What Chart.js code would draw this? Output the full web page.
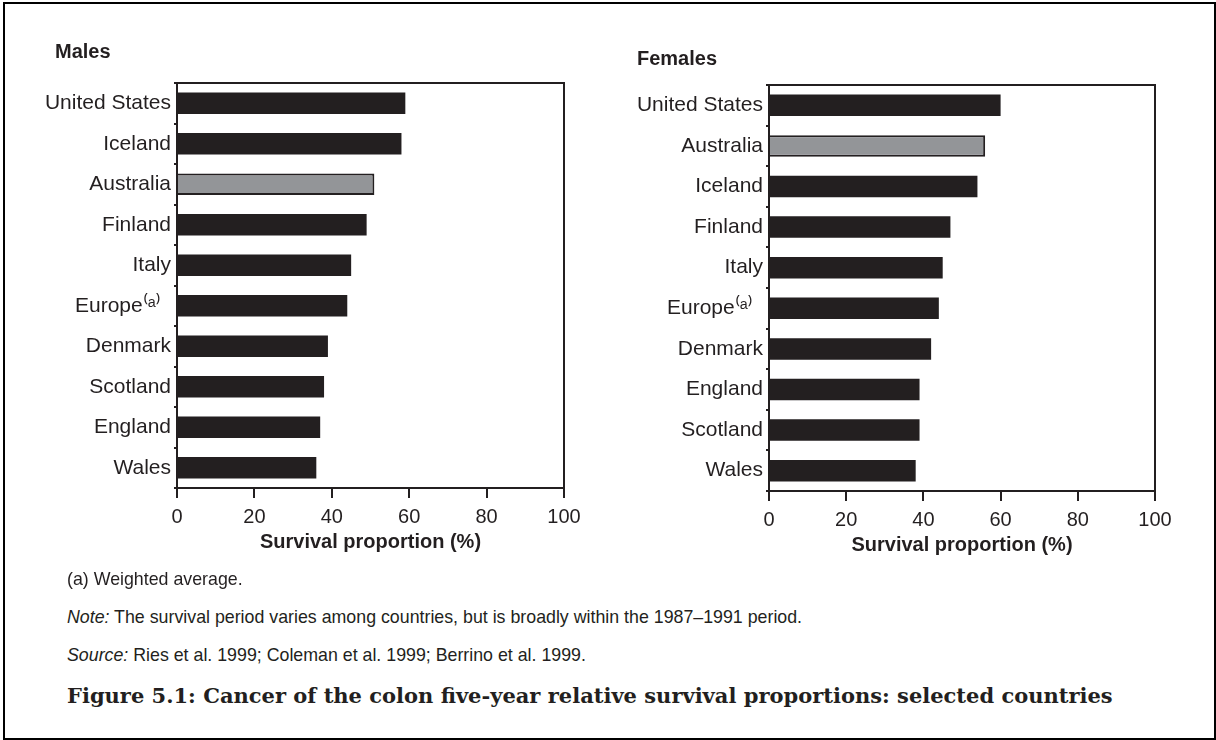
<!DOCTYPE html>
<html>
<head>
<meta charset="utf-8">
<script src="https://cdn.jsdelivr.net/npm/chart.js@4"></script>
<style>
  body { margin: 0; background: #fff; }
  #page { position: relative; width: 1216px; height: 740px; overflow: hidden; }
  #frame { position: absolute; left: 3px; top: 2px; width: 1209px; height: 734px; border: 2px solid #000; }
  .panel { position: absolute; top: 0; height: 570px; }
  .head { position: absolute; font: bold 20px "Liberation Sans", Arial, sans-serif; color: #231f20; }
  .note { position: absolute; left: 67px; font: 17.8px "Liberation Sans", Arial, sans-serif; color: #231f20; white-space: nowrap; }
  #caption { position: absolute; left: 67px; top: 683px; font: bold 21px "DejaVu Serif", serif; color: #231f20; white-space: nowrap; }
</style>
</head>
<body>
<div id="page">
  <div id="frame"></div>
  <div class="panel" style="left:0;width:600px"><canvas id="males"></canvas></div>
  <div class="panel" style="left:600px;width:616px"><canvas id="females"></canvas></div>
  <div class="head" style="left:55px;top:40px">Males</div>
  <div class="head" style="left:637px;top:47px">Females</div>
  <div class="note" style="top:569px">(a) Weighted average.</div>
  <div class="note" style="top:607px"><i>Note:</i> The survival period varies among countries, but is broadly within the 1987–1991 period.</div>
  <div class="note" style="top:645px"><i>Source:</i> Ries et al. 1999; Coleman et al. 1999; Berrino et al. 1999.</div>
  <div id="caption">Figure 5.1: Cancer of the colon five-year relative survival proportions: selected countries</div>
</div>
<script>
var maleCountries = ['United States', 'Iceland', 'Australia', 'Finland', 'Italy', 'Europe⁽ᵃ⁾\u2002', 'Denmark', 'Scotland', 'England', 'Wales'];
var maleValues = [59, 58, 51, 49, 45, 44, 39, 38, 37, 36];
var femaleCountries = ['United States', 'Australia', 'Iceland', 'Finland', 'Italy', 'Europe⁽ᵃ⁾\u2002', 'Denmark', 'England', 'Scotland', 'Wales'];
var femaleValues = [60, 56, 54, 47, 45, 44, 42, 39, 39, 38];
var xTicks = [0, 20, 40, 60, 80, 100];

var ink = '#231f20';
var font = 'Liberation Sans';

// top and right edges of the plot box
var boxEdges = {
  id: 'boxEdges',
  afterDraw: function(chart) {
    var a = chart.chartArea, ctx = chart.ctx;
    ctx.save();
    ctx.strokeStyle = ink;
    ctx.lineWidth = 2;
    ctx.beginPath();
    ctx.moveTo(a.left, a.top);
    ctx.lineTo(a.right, a.top);
    ctx.lineTo(a.right, a.bottom);
    ctx.stroke();
    ctx.restore();
  }
};

function makeChart(id, labels, values, yWidth, padTop, padRight, xHeight, padBottom) {
  var colours = labels.map(function(l) { return l == 'Australia' ? '#939598' : ink; });
  var borders = labels.map(function(l) { return l == 'Australia' ? 2 : 0; });
  return new Chart(document.getElementById(id), {
    type: 'bar',
    data: {
      labels: labels,
      datasets: [{
        data: values,
        backgroundColor: colours,
        borderColor: ink,
        borderWidth: borders,
        borderSkipped: 'left',
        categoryPercentage: 1,
        barPercentage: 0.53
      }]
    },
    options: {
      indexAxis: 'y',
      responsive: true,
      maintainAspectRatio: false,
      animation: false,
      layout: { padding: { top: padTop, right: padRight, left: 0, bottom: padBottom } },
      plugins: { legend: { display: false }, tooltip: { enabled: false } },
      scales: {
        x: {
          min: 0, max: 100,
          afterBuildTicks: function(s) { s.ticks = xTicks.map(function(v) { return { value: v }; }); },
          afterFit: function(s) { s.height = xHeight; },
          grid: { drawOnChartArea: false, tickLength: 10, color: ink, lineWidth: 2 },
          border: { color: ink, width: 2 },
          ticks: { color: ink, font: { family: font, size: 20 }, padding: 7, maxRotation: 0 },
          title: { display: true, text: 'Survival proportion (%)', color: ink, font: { family: font, size: 20, weight: 'bold' }, padding: { top: 0, bottom: 0 } }
        },
        y: {
          afterFit: function(s) { s.width = yWidth; },
          grid: { drawOnChartArea: false, offset: true, tickLength: 3, color: ink, lineWidth: 2 },
          border: { color: ink, width: 2 },
          ticks: { color: ink, font: { family: font, size: 21 }, padding: 3 }
        }
      }
    },
    plugins: [boxEdges]
  });
}

makeChart('males', maleCountries, maleValues, 177, 83, 36, 66, 16);
makeChart('females', femaleCountries, femaleValues, 169, 85, 61, 66, 13);
</script>
</body>
</html>
